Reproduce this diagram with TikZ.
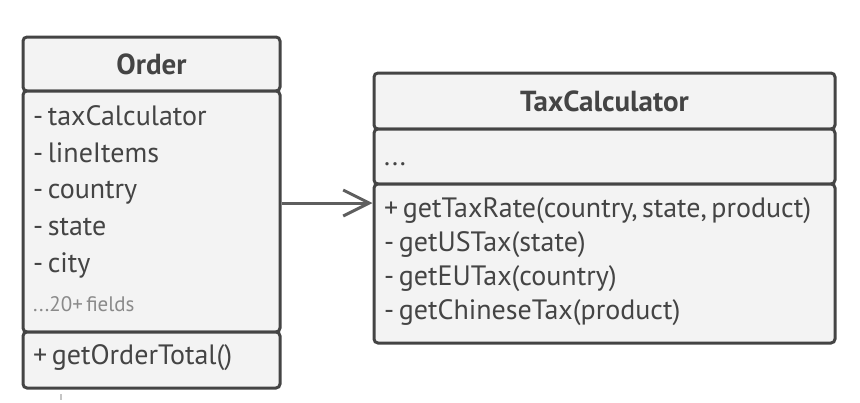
\documentclass[tikz,border=0pt]{standalone}
\usepackage{fontspec}
\setmainfont{PT Sans}[WordSpace=0.6]
\usetikzlibrary{arrows.meta}
\definecolor{boxfill}{HTML}{F3F3F3}
\definecolor{boxline}{HTML}{444444}
\definecolor{txt}{HTML}{444444}
\definecolor{faint}{HTML}{8A8A8A}
\definecolor{arrowc}{HTML}{5E5E5E}
\tikzset{
  section/.style={draw=boxline, fill=boxfill, line width=3pt, rounded corners=4pt, inner sep=0pt},
  title/.style={font=\fontsize{29}{33}\selectfont\bfseries, text=txt, inner sep=0pt},
  member/.style={font=\fontsize{28}{32}\selectfont, text=txt, anchor=west, inner sep=0pt, text height=20pt, text depth=6pt},
  assoc/.style={draw=arrowc, line width=3pt, -{Straight Barb[length=26pt,width=26pt,line width=3pt]}},
}
\begin{document}
\begin{tikzpicture}[x=1pt,y=-1pt]
\useasboundingbox (0,0) rectangle (860,402);
% Order class
\node[section, minimum width=257pt, minimum height=54pt] (orderHead) at (151.5,64) {};
\node[section, minimum width=257pt, minimum height=241pt] (orderFields) at (151.5,211.5) {};
\node[section, minimum width=257pt, minimum height=56pt] (orderMethods) at (151.5,360) {};
\node[title] (orderTitle) at (151.5,64) {Order};
\node[member] (f1) at (33,118) {- taxCalculator};
\node[member] (f2) at (33,155) {- lineItems};
\node[member] (f3) at (33,191) {- country};
\node[member] (f4) at (33,228) {- state};
\node[member] (f5) at (33,265) {- city};
\node[member, text=faint, font=\fontsize{21}{25}\selectfont] (f6) at (33,304) {...20+ fields};
\node[member] (m1) at (33,357) {+ getOrderTotal()};
% TaxCalculator class
\node[section, minimum width=461pt, minimum height=56pt] (taxHead) at (604.5,101) {};
\node[section, minimum width=461pt, minimum height=55pt] (taxAttrs) at (604.5,156.5) {};
\node[section, minimum width=461pt, minimum height=159pt] (taxMethods) at (604.5,263.5) {};
\node[title] (taxTitle) at (604.5,101) {TaxCalculator};
\node[member] (a1) at (384,158) {...};
\node[member] (t1) at (384,210) {+ getTaxRate(country, state, product)};
\node[member] (t2) at (384,244) {- getUSTax(state)};
\node[member] (t3) at (384,278) {- getEUTax(country)};
\node[member] (t4) at (384,312) {- getChineseTax(product)};
% association
\coordinate (arrowY) at (0,203);
\draw[assoc] (orderFields.east |- arrowY) -- (taxMethods.west |- arrowY);
% faint tick
\draw[draw=faint!50, line width=1.5pt] (61,394) -- (61,400);
\end{tikzpicture}
\end{document}
